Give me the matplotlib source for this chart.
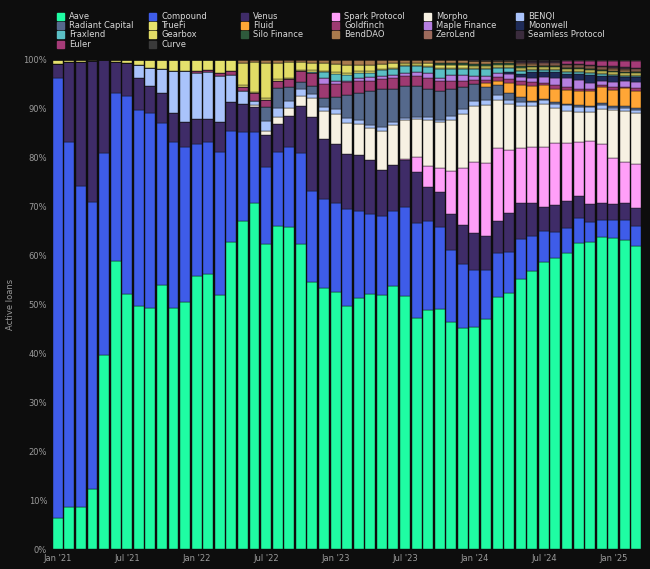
import matplotlib.pyplot as plt
from matplotlib.patches import Rectangle
import numpy as np

# monthly shares of active loans (%), Jan '21 .. Mar '25
months = 51
tick_pos = [0, 6, 12, 18, 24, 30, 36, 42, 48]
tick_labels = ["Jan '21", "Jul '21", "Jan '22", "Jul '22", "Jan '23", "Jul '23", "Jan '24", "Jul '24", "Jan '25"]

aave = [6.3, 8.5, 8.7, 12.2, 39.6, 58.8, 52.1, 49.7, 49.2, 53.9, 49.2, 50.5, 55.8, 56.2, 52.0, 62.7, 67.3,
        71.0, 62.6, 66.3, 66.2, 62.7, 54.7, 53.5, 52.8, 49.9, 51.5, 52.4, 52.2, 54.1, 52.0, 47.3, 49.1, 49.2,
        46.6, 45.3, 45.5, 47.0, 51.1, 51.3, 54.4, 57.2, 59.3, 60.7, 61.8, 63.9, 64.0, 65.2, 65.2, 64.6, 63.5]
compound = [90.0, 74.6, 65.5, 58.8, 41.3, 34.4, 40.4, 40.1, 40.0, 33.1, 34.0, 31.6, 27.1, 26.9, 29.2, 22.8, 18.2,
            14.7, 15.9, 15.1, 16.3, 18.7, 18.7, 18.3, 18.2, 19.9, 18.0, 16.5, 16.1, 15.4, 18.3, 19.6, 18.3, 16.9,
            14.7, 13.2, 11.6, 10.1, 8.8, 8.2, 8.1, 7.2, 6.3, 5.4, 5.3, 5.2, 4.2, 3.7, 3.7, 4.1, 4.2]
venus = [2.7, 16.4, 25.3, 28.8, 19.1, 6.3, 6.8, 6.6, 5.5, 6.2, 6.0, 5.1, 5.0, 4.8, 6.2, 5.8, 5.8,
         5.0, 6.5, 5.8, 6.4, 9.5, 15.2, 12.3, 12.1, 11.2, 11.5, 11.0, 9.4, 9.4, 9.6, 10.3, 6.8, 7.2,
         7.5, 7.9, 7.6, 6.9, 6.4, 7.8, 7.4, 6.6, 5.1, 5.5, 5.5, 4.5, 3.8, 3.4, 3.4, 3.6, 3.7]
spark = [0] * 30 + [0.2, 3.1, 4.4, 4.8, 8.7, 11.8, 14.5, 14.9, 14.9, 12.8, 10.9, 11.5, 12.3, 12.9, 12.3, 11.4,
                    13.0, 12.4, 9.5, 8.5, 9.1]
morpho = [0] * 17 + [0.5, 0.9, 1.4, 1.6, 2.1, 3.9, 5.7, 6.3, 6.5, 6.3, 6.5, 8.0, 8.3, 8.0, 7.8, 9.4, 9.5,
                     10.6, 11.0, 11.5, 11.9, 9.7, 9.1, 8.5, 8.5, 8.9, 7.4, 6.6, 6.1, 6.1, 7.4, 10.1, 10.7, 10.7]
benqi = [0] * 7 + [2.6, 3.7, 4.9, 8.4, 10.4, 9.5, 9.6, 9.3, 5.6, 2.5, 0.9, 2.0, 1.8, 1.5, 1.4, 0.7, 1.0, 0.9,
                   1.0, 0.9, 0.8, 0.8, 0.7, 0.5, 0.5, 0.7, 0.5, 0.7, 1.1, 1.0, 1.0, 0.9, 0.8, 0.9, 0.8, 0.7,
                   0.8, 1.2, 1.2, 1.0, 0.8, 0.5, 0.7, 0.7]
radiant = [0] * 18 + [2.8, 4.3, 2.8, 1.5, 1.7, 1.8, 2.5, 4.6, 5.5, 6.8, 8.0, 6.7, 6.6, 6.3, 5.7, 5.9, 5.5,
                      4.6, 3.5, 2.7, 2.0, 1.4, 0.9, 0.3, 0.3, 0.3, 0.3, 0.3, 0.3, 0.3, 0.3, 0.3, 0.3]
fluid = [0] * 37 + [0.7, 0.8, 2.0, 2.5, 3.1, 2.9, 2.9, 2.9, 2.9, 3.1, 3.3, 3.4, 3.7, 3.7]
goldfinch = [0] * 12 + [0.4, 0.5, 0.7, 0.7, 1.0, 1.5, 1.6, 1.4, 1.7, 2.2, 2.6, 2.9, 2.7, 2.7, 2.5, 2.2, 2.0,
                        2.2, 1.9, 2.0, 2.2, 2.0, 1.8, 1.2, 0.8, 0.7, 0.9, 0.9, 0.9, 0.7, 0.5, 0.7, 0.7, 0.5,
                        0.5, 0.5, 0.5, 0.3, 0.5]
maple = [0] * 23 + [1.2, 0.7, 0.3, 0.5, 0.7, 0.5, 0.7, 0.7, 0.8, 1.0, 0.7, 1.1, 1.1, 0.9, 0.8, 0.8, 1.0,
                    0.8, 0.9, 1.2, 1.6, 1.7, 1.8, 1.2, 0.8, 1.2, 1.2, 1.4]
moonwell = [0] * 39 + [0.3, 0.5, 1.2, 1.0, 1.2, 1.0, 1.4, 1.7, 1.2, 1.2, 0.9, 0.9]
fraxlend = [0] * 22 + [0.3, 1.1, 1.4, 1.2, 1.1, 0.9, 1.2, 1.2, 1.4, 1.4, 1.4, 1.9, 1.4, 1.4, 1.4, 1.4, 1.0,
                       0.8, 0.6, 0.4, 0.3, 0.3, 0.3, 0.3, 0.3, 0.3, 0.3, 0.3, 0.3]
truefi = [0.96, 0.5, 0.5, 0.2, 0.05, 0.5, 0.7, 1.1, 1.6, 1.9, 2.4, 2.4, 2.3, 2.0, 2.7, 2.4, 0.3,
          0.3, 0.3, 0.3, 0.3, 0.3, 0.3, 0.3, 0.3, 0.3, 0.3, 0.3, 0.3, 0.3, 0.2, 0.2, 0.2, 0.2,
          0.2, 0.2, 0.2, 0.2, 0.2, 0.2, 0.2, 0.2, 0.2, 0.2, 0.2, 0.2, 0.2, 0.2, 0.2, 0.2, 0.2]
gearbox = [0] * 16 + [4.6, 6.1, 7.2, 3.4, 3.2, 1.6, 1.6, 1.7, 1.7, 1.8, 1.4, 1.4, 1.0, 0.9, 0.5, 0.3, 0.5,
                      0.5, 0.5, 0.5, 0.4, 0.4, 0.4, 0.4, 0.4, 0.4, 0.4, 0.4, 0.4, 0.4, 0.4, 0.4, 0.4, 0.4, 0.4]
silo = [0] * 33 + [0.5, 0.5, 0.5, 0.5, 0.5, 0.4, 0.4, 0.4, 0.3, 0.3, 0.3, 0.2, 0.2, 0.2, 0.2, 0.2, 0.2, 0.2]
benddao = [0] * 16 + [0.6, 0.5, 0.7, 0.6, 0.5, 0.5, 0.6, 0.6, 0.9, 1.0, 1.0, 1.0, 0.9, 0.7, 0.6, 0.7, 0.7,
                      0.6, 0.6, 0.6, 0.5, 0.5, 0.4, 0.4, 0.4, 0.3, 0.3, 0.3, 0.3, 0.3, 0.3, 0.3, 0.3, 0.3, 0.3]
zerolend = [0] * 40 + [0.3, 0.3, 0.4, 0.4, 0.4, 0.3, 0.3, 0.3, 0.3, 0.3, 0.3]
seamless = [0] * 40 + [0.3, 0.3, 0.3, 0.3, 0.3, 0.3, 0.3, 0.3, 0.3, 0.3, 0.3]
euler = [0] * 44 + [0.5, 0.6, 0.8, 1.0, 1.1, 1.3, 1.4]
curve = [0] * 36 + [0.3] * 15

series = [
    ("Aave", aave, "#1ffca3"), ("Compound", compound, "#3e5ce9"), ("Venus", venus, "#3f2c68"),
    ("Spark Protocol", spark, "#ff9ff8"), ("Morpho", morpho, "#f7f1e3"), ("BENQI", benqi, "#a9c3fb"),
    ("Radiant Capital", radiant, "#55698c"), ("Fluid", fluid, "#ffa636"), ("Goldfinch", goldfinch, "#9e3a72"),
    ("Maple Finance", maple, "#b67fe0"), ("Moonwell", moonwell, "#1e2b58"), ("Fraxlend", fraxlend, "#5bbfc5"),
    ("TrueFi", truefi, "#e5e16c"), ("Gearbox", gearbox, "#e2dc66"), ("Silo Finance", silo, "#2e5a3c"),
    ("BendDAO", benddao, "#a97b4d"), ("ZeroLend", zerolend, "#9c6a5c"), ("Seamless Protocol", seamless, "#3b2c3d"),
    ("Euler", euler, "#a53b78"), ("Curve", curve, "#3a3a3a"),
]
colors = {name: c for name, _, c in series}

data = np.array([s[1] for s in series], dtype=float)
data = data / data.sum(axis=0) * 100

bg = "#0d0d0d"
fig = plt.figure(figsize=(6.5, 5.69), dpi=100, facecolor=bg)
ax = fig.add_axes([0.08, 0.035, 0.908, 0.86], facecolor=bg)

x = np.arange(months)
bottom = np.zeros(months)
for (name, _, c), vals in zip(series, data):
    ax.bar(x, vals, bottom=bottom, width=0.86, color=c, edgecolor="#111111", linewidth=0.3)
    bottom += vals

ax.set_xlim(-0.5, months - 0.5)
ax.set_ylim(0, 100)
ax.set_yticks(np.arange(0, 101, 10))
ax.set_yticklabels([f"{v}%" for v in range(0, 101, 10)])
ax.set_xticks(tick_pos)
ax.set_xticklabels(tick_labels)
ax.tick_params(colors="#9a9a9a", labelsize=6, length=0)
for sp in ax.spines.values():
    sp.set_visible(False)
ax.set_ylabel("Active loans", color="#9a9a9a", fontsize=6, labelpad=6)

# legend laid out by hand, 6 columns
legend_cols = [
    ["Aave", "Radiant Capital", "Fraxlend", "Euler"],
    ["Compound", "TrueFi", "Gearbox", "Curve"],
    ["Venus", "Fluid", "Silo Finance"],
    ["Spark Protocol", "Goldfinch", "BendDAO"],
    ["Morpho", "Maple Finance", "ZeroLend"],
    ["BENQI", "Moonwell", "Seamless Protocol"],
]
col_x = [57, 149, 241, 332, 424, 516]
W, H = 650.0, 569.0
for cx, names in zip(col_x, legend_cols):
    for r, name in enumerate(names):
        cy = 16.5 + r * 9.2
        fig.patches.append(Rectangle((cx / W, 1 - (cy + 3.5) / H), 7 / W, 7 / H,
                                     transform=fig.transFigure, color=colors[name]))
        fig.text((cx + 12) / W, 1 - cy / H, name, color="#d8d8d8", fontsize=6, va="center")

plt.savefig("out.png", dpi=100, facecolor=bg)
